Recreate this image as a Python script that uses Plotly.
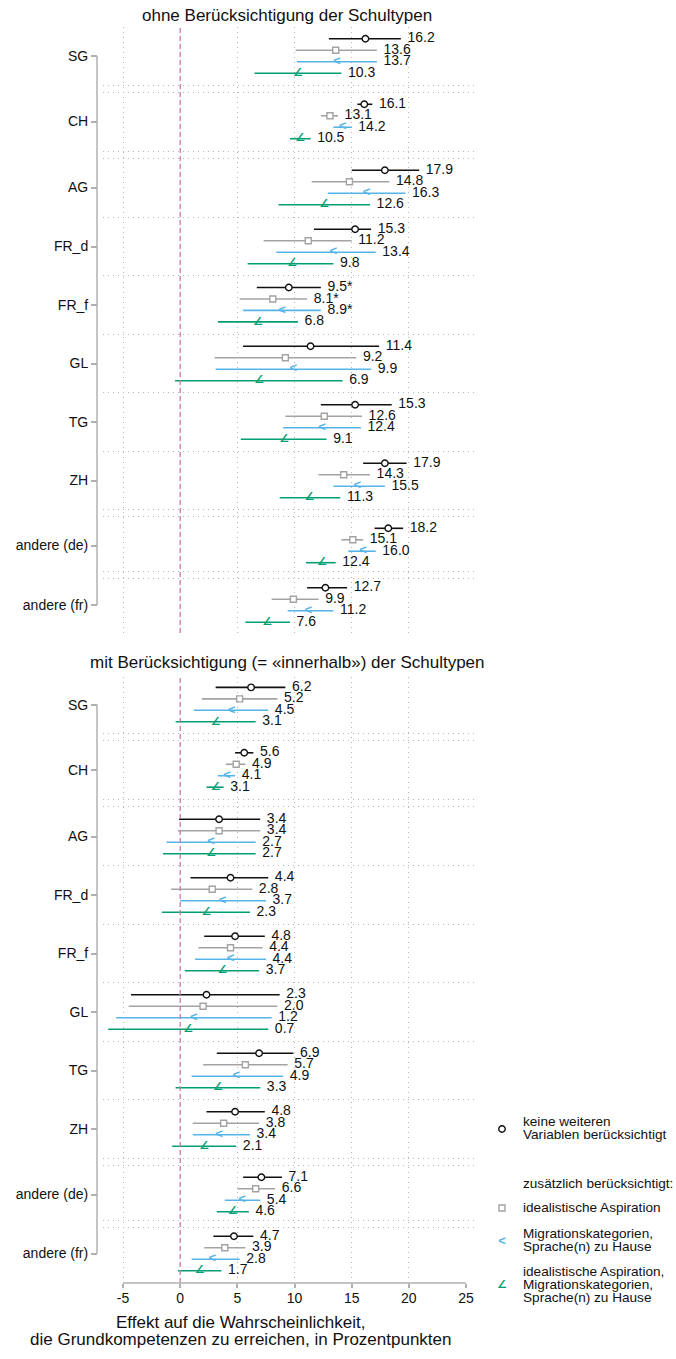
import plotly.graph_objects as go

W, H = 676, 1359

categories = ["SG", "CH", "AG", "FR_d", "FR_f", "GL", "TG", "ZH", "andere (de)", "andere (fr)"]
ticks_x = [-5, 0, 5, 10, 15, 20, 25]

# ---------- top panel: ohne Berücksichtigung der Schultypen ----------
top_m0 = [16.2, 16.1, 17.9, 15.3, 9.5, 11.4, 15.3, 17.9, 18.2, 12.7]
top_m0_lo = [13.0, 15.5, 15.0, 11.7, 6.7, 5.5, 12.3, 16.0, 17.0, 11.1]
top_m0_hi = [19.3, 16.8, 20.9, 16.7, 12.3, 17.4, 18.5, 19.8, 19.5, 14.6]
top_m0_star = [0, 0, 0, 0, 1, 0, 0, 0, 0, 0]

top_m1 = [13.6, 13.1, 14.8, 11.2, 8.1, 9.2, 12.6, 14.3, 15.1, 9.9]
top_m1_lo = [10.1, 12.3, 11.5, 7.3, 5.2, 3.0, 9.2, 12.1, 14.1, 8.0]
top_m1_hi = [17.2, 13.8, 18.3, 15.0, 11.1, 15.4, 15.9, 16.6, 16.0, 12.1]
top_m1_star = [0, 0, 0, 0, 1, 0, 0, 0, 0, 0]

top_m2 = [13.7, 14.2, 16.3, 13.4, 8.9, 9.9, 12.4, 15.5, 16.0, 11.2]
top_m2_lo = [10.2, 13.4, 12.9, 8.4, 5.5, 3.1, 9.0, 13.4, 14.7, 9.4]
top_m2_hi = [17.2, 15.0, 19.7, 17.1, 12.3, 16.7, 15.8, 17.9, 17.1, 13.4]
top_m2_star = [0, 0, 0, 0, 1, 0, 0, 0, 0, 0]

top_m3 = [10.3, 10.5, 12.6, 9.8, 6.8, 6.9, 9.1, 11.3, 12.4, 7.6]
top_m3_lo = [6.5, 9.6, 8.6, 5.9, 3.3, -0.45, 5.3, 8.7, 11.0, 5.7]
top_m3_hi = [14.1, 11.4, 16.6, 13.4, 10.3, 14.2, 12.8, 14.0, 13.6, 9.6]
top_m3_star = [0, 0, 0, 0, 0, 0, 0, 0, 0, 0]

# ---------- bottom panel: mit Berücksichtigung der Schultypen ----------
bot_m0 = [6.2, 5.6, 3.4, 4.4, 4.8, 2.3, 6.9, 4.8, 7.1, 4.7]
bot_m0_lo = [3.1, 4.8, -0.1, 0.9, 2.1, -4.3, 3.2, 2.3, 5.5, 2.9]
bot_m0_hi = [9.2, 6.4, 7.0, 7.7, 7.4, 8.7, 9.9, 7.4, 8.9, 6.4]

bot_m1 = [5.2, 4.9, 3.4, 2.8, 4.4, 2.0, 5.7, 3.8, 6.6, 3.9]
bot_m1_lo = [1.9, 4.0, -0.2, -0.8, 1.6, -4.5, 2.0, 1.1, 5.0, 2.1]
bot_m1_hi = [8.5, 5.7, 7.0, 6.3, 7.2, 8.5, 9.4, 6.9, 8.3, 5.7]

bot_m2 = [4.5, 4.1, 2.7, 3.7, 4.4, 1.2, 4.9, 3.4, 5.4, 2.8]
bot_m2_lo = [1.2, 3.3, -1.2, 0.0, 1.3, -5.6, 1.0, 1.1, 3.9, 1.0]
bot_m2_hi = [7.7, 4.8, 6.6, 7.5, 7.5, 8.0, 9.0, 6.1, 7.0, 5.2]

bot_m3 = [3.1, 3.1, 2.7, 2.3, 3.7, 0.7, 3.3, 2.1, 4.6, 1.7]
bot_m3_lo = [-0.4, 2.3, -1.5, -1.6, 0.4, -6.3, -0.4, -0.7, 3.2, -0.2]
bot_m3_hi = [6.6, 3.8, 6.6, 6.1, 6.9, 7.7, 7.0, 4.9, 6.0, 3.6]
no_star = [0] * 10

legend_lines = [
    ["keine weiteren", "Variablen berücksichtigt"],
    ["idealistische Aspiration"],
    ["Migrationskategorien,", "Sprache(n) zu Hause"],
    ["idealistische Aspiration,", "Migrationskategorien,", "Sprache(n) zu Hause"],
]
legend_header = "zusätzlich berücksichtigt:"
title_top = "ohne Berücksichtigung der Schultypen"
title_bot = "mit Berücksichtigung (= «innerhalb») der Schultypen"
xtitle_lines = ["Effekt auf die Wahrscheinlichkeit,",
                "die Grundkompetenzen zu erreichen, in Prozentpunkten"]

# ---------- layout (positions / styles) ----------
FONT = "Liberation Sans, Arial, sans-serif"
top_pos = [29, 94.5, 160.5, 219.5, 277.7, 336.5, 395, 453.5, 518.5, 578]
bot_pos = [27.6, 93, 159.5, 218, 276.5, 335, 393.5, 452, 517.5, 576.5]
row_off = [-17.2, -5.7, 5.7, 17.2]
double_sep = [True, True, False, False, False, False, False, True, True]
PANEL_H = 606
COL = ["#111111", "#a3a3a3", "#56B4E9", "#009E73"]
PINK = "#cc79a7"
GRID = "#b8b8b8"


def separators(pos):
    out = []
    for i in range(len(pos) - 1):
        m = (pos[i] + pos[i + 1]) / 2
        if double_sep[i]:
            out += [m - 3.5, m + 3.5]
        else:
            out.append(m)
    return out


top_series = [(top_m0, top_m0_lo, top_m0_hi, top_m0_star),
              (top_m1, top_m1_lo, top_m1_hi, top_m1_star),
              (top_m2, top_m2_lo, top_m2_hi, top_m2_star),
              (top_m3, top_m3_lo, top_m3_hi, top_m3_star)]
bot_series = [(bot_m0, bot_m0_lo, bot_m0_hi, no_star),
              (bot_m1, bot_m1_lo, bot_m1_hi, no_star),
              (bot_m2, bot_m2_lo, bot_m2_hi, no_star),
              (bot_m3, bot_m3_lo, bot_m3_hi, no_star)]

fig = go.Figure()


def add_marker(fig, k, xs, ys, xa, ya):
    if k == 0:
        fig.add_trace(go.Scatter(x=xs, y=ys, mode="markers", xaxis=xa, yaxis=ya,
                                 marker=dict(symbol="circle", size=6.5, color="white",
                                             line=dict(color=COL[0], width=1.4)),
                                 hoverinfo="skip", showlegend=False))
    elif k == 1:
        fig.add_trace(go.Scatter(x=xs, y=ys, mode="markers", xaxis=xa, yaxis=ya,
                                 marker=dict(symbol="square", size=6, color="white",
                                             line=dict(color=COL[1], width=1.4)),
                                 hoverinfo="skip", showlegend=False))
    elif k == 2:
        fig.add_trace(go.Scatter(x=xs, y=ys, mode="text", xaxis=xa, yaxis=ya,
                                 text=["<"] * len(xs), textposition="middle center",
                                 textfont=dict(family=FONT, size=13, color=COL[2], weight="bold"),
                                 hoverinfo="skip", showlegend=False))
    else:
        fig.add_trace(go.Scatter(x=xs, y=ys, mode="text", xaxis=xa, yaxis=ya,
                                 text=["∠"] * len(xs), textposition="middle center",
                                 textfont=dict(family="DejaVu Sans", size=11, color=COL[3],
                                               weight="bold"),
                                 hoverinfo="skip", showlegend=False))


def add_panel(series, pos, xa, ya):
    for k, (est, lo, hi, star) in enumerate(series):
        ys = [g + row_off[k] for g in pos]
        fig.add_trace(go.Scatter(
            x=est, y=ys, mode="markers", xaxis=xa, yaxis=ya,
            marker=dict(size=1, color="rgba(0,0,0,0)"),
            error_x=dict(type="data", symmetric=False,
                         array=[h - e for h, e in zip(hi, est)],
                         arrayminus=[e - l for e, l in zip(est, lo)],
                         color=COL[k], thickness=1.6, width=0),
            hoverinfo="skip", showlegend=False))
        add_marker(fig, k, est, ys, xa, ya)
        labels = [f"{e:.1f}" + ("*" if s else "") for e, s in zip(est, star)]
        fig.add_trace(go.Scatter(
            x=hi, y=ys, mode="markers+text", xaxis=xa, yaxis=ya,
            text=labels, textposition="middle right",
            marker=dict(size=9, color="rgba(0,0,0,0)"),
            textfont=dict(family=FONT, size=14, color="#111111"),
            hoverinfo="skip", showlegend=False))


add_panel(top_series, top_pos, "x", "y")
add_panel(bot_series, bot_pos, "x2", "y2")

# legend keys (on an overlay pixel axis)
leg_key_y = [1129, 1208, 1242, 1285]
leg_key_x = 502
for k in range(4):
    add_marker(fig, k, [leg_key_x], [leg_key_y[k]], "x3", "y3")

LEGF = 13.6
line_y = [[1121, 1134], [1207], [1233, 1246], [1271, 1284, 1297]]
annotations = []
for k in range(4):
    for txt, yy in zip(legend_lines[k], line_y[k]):
        annotations.append(dict(text=txt, x=521 / W, y=1 - yy / H, xref="paper", yref="paper",
                                xanchor="left", yanchor="middle", showarrow=False,
                                font=dict(family=FONT, size=LEGF, color="#111111")))
annotations.append(dict(text=legend_header, x=521 / W, y=1 - 1183 / H, xref="paper", yref="paper",
                        xanchor="left", yanchor="middle", showarrow=False,
                        font=dict(family=FONT, size=LEGF, color="#111111")))
annotations.append(dict(text=title_top, x=287 / W, y=1 - 15 / H, xref="paper", yref="paper",
                        xanchor="center", yanchor="middle", showarrow=False,
                        font=dict(family=FONT, size=17, color="#111111")))
annotations.append(dict(text=title_bot, x=287 / W, y=1 - 662 / H, xref="paper", yref="paper",
                        xanchor="center", yanchor="middle", showarrow=False,
                        font=dict(family=FONT, size=17, color="#111111")))
for txt, yy in zip(xtitle_lines, [1322, 1339]):
    annotations.append(dict(text=txt, x=240 / W, y=1 - yy / H, xref="paper", yref="paper",
                            xanchor="center", yanchor="middle", showarrow=False,
                            font=dict(family=FONT, size=17, color="#111111")))

shapes = []
for ya, pos in [("y", top_pos), ("y2", bot_pos)]:
    xa = "x" if ya == "y" else "x2"
    shapes.append(dict(type="line", xref=xa, x0=0, x1=0, yref=ya + " domain", y0=0, y1=1,
                       line=dict(color=PINK, width=1.3, dash="5px,3px")))
    shapes.append(dict(type="line", xref="paper", x0=97 / W, x1=97 / W, yref=ya,
                       y0=pos[0], y1=pos[-1],
                       line=dict(color="#b0b0b0", width=1.5)))
shapes.append(dict(type="line", xref="x2", x0=-5, x1=25, yref="y2 domain", y0=0, y1=0,
                   line=dict(color="#b0b0b0", width=1.5)))

xdom = [103 / W, 476 / W]
xrange_ = [(103 - 180.2) / 11.433, (476 - 180.2) / 11.433]
common_x = dict(domain=xdom, range=xrange_, showgrid=False, zeroline=False, showline=False,
                tickvals=ticks_x, ticktext=[str(t) for t in ticks_x],
                minor=dict(tickmode="array", tickvals=[-5, 5, 10, 15, 20], showgrid=True,
                           gridcolor=GRID, griddash="1px,4px", gridwidth=1, ticks=""))


def yaxis_cfg(pos, dom):
    return dict(range=[PANEL_H, 0], tickvals=pos, ticktext=categories,
                ticks="outside", ticklen=6, tickwidth=1.5, tickcolor="#b0b0b0",
                tickfont=dict(family=FONT, size=14, color="#111111"),
                showgrid=False, zeroline=False, showline=False,
                anchor="free", position=97 / W, domain=dom,
                minor=dict(tickmode="array", tickvals=separators(pos), showgrid=True,
                           gridcolor=GRID, griddash="1px,4px", gridwidth=1, ticks=""))


fig.update_layout(
    width=W, height=H, margin=dict(l=0, r=0, t=0, b=0),
    paper_bgcolor="white", plot_bgcolor="rgba(0,0,0,0)",
    font=dict(family=FONT, color="#111111"),
    xaxis=dict(**common_x, anchor="y", showticklabels=False, ticks=""),
    yaxis=yaxis_cfg(top_pos, [1 - 633 / H, 1 - 27 / H]),
    xaxis2=dict(**common_x, anchor="y2", showticklabels=True, ticks="outside", ticklen=4,
                tickwidth=1.5, tickcolor="#b0b0b0", ticklabelstandoff=-2,
                tickfont=dict(family=FONT, size=14, color="#111111")),
    yaxis2=yaxis_cfg(bot_pos, [1 - 1283 / H, 1 - 677 / H]),
    xaxis3=dict(domain=[0, 1], range=[0, W], visible=False, anchor="y3"),
    yaxis3=dict(domain=[0, 1], range=[H, 0], visible=False, anchor="x3"),
    annotations=annotations, shapes=shapes, showlegend=False,
)

fig.write_html("out.html", config={"displayModeBar": False},
               post_script="document.body.style.margin='0px';")
